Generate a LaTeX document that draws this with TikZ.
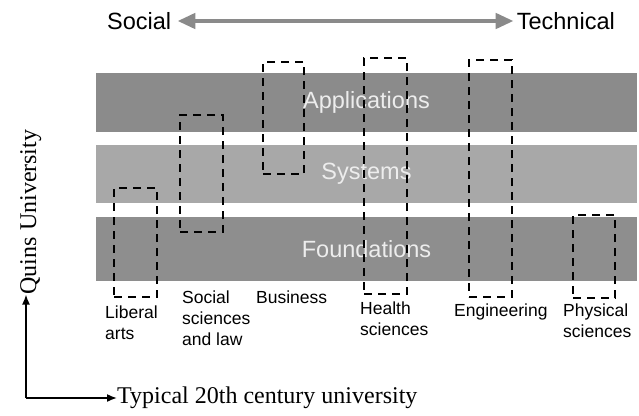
\documentclass[tikz,border=0pt]{standalone}
\usepackage{fontspec}
\setmainfont{Liberation Sans}
\newfontfamily\timesfont{Liberation Serif}
\usetikzlibrary{arrows.meta}
\definecolor{barA}{HTML}{8B8B8B}
\definecolor{barS}{HTML}{A8A8A8}
\definecolor{barF}{HTML}{8E8E8E}
\definecolor{bartext}{HTML}{EDEDED}
\definecolor{axisgray}{HTML}{8A8A8A}
\tikzset{
  bar/.style={rectangle, inner sep=0pt, minimum width=541pt, text=bartext,
    font=\fontsize{23.5}{28}\selectfont},
  dbox/.style={rectangle, draw=black, line width=2pt, dash pattern=on 8pt off 6pt,
    inner sep=0pt},
  field/.style={inner sep=0pt, align=left, anchor=base west,
    font=\fontsize{17.5}{21}\selectfont},
  toplabel/.style={inner sep=0pt, font=\fontsize{23.5}{28}\selectfont},
  serifl/.style={inner sep=0pt, font=\timesfont\fontsize{24}{29}\selectfont},
  grayarrow/.style={draw=axisgray, line width=4.5pt,
    arrows={Triangle[length=18pt,width=15pt,fill=axisgray]-Triangle[length=18pt,width=15pt,fill=axisgray]}},
  blackarrow/.style={draw=black, line width=1.6pt, -{Latex[length=10pt,width=8pt]}}
}
\begin{document}
\begin{tikzpicture}[x=1pt,y=-1pt]
\useasboundingbox[fill=white] (0,0) rectangle (639,415);
% top axis
\node[toplabel, anchor=west] (social) at (107,21) {Social};
\node[toplabel, anchor=east] (technical) at (615,21) {Technical};
\draw[grayarrow, shorten <=6pt, shorten >=3pt] (social.east) -- (technical.west);
% bars
\node[bar, fill=barA, minimum height=59pt] (app) at (366.5,102.5) {Applications};
\node[bar, fill=barS, minimum height=58pt] (sys) at (366.5,174) {Systems};
\node[bar, fill=barF, minimum height=64pt] (fnd) at (366.5,249) {Foundations};
% dashed boxes
\node[dbox, minimum width=43pt, minimum height=109pt] (libbox) at (135.5,242.5) {};
\node[dbox, minimum width=43pt, minimum height=117pt] (socbox) at (201.5,173.5) {};
\node[dbox, minimum width=41pt, minimum height=112pt] (busbox) at (283.5,118) {};
\node[dbox, minimum width=43pt, minimum height=236pt] (heabox) at (385.5,176) {};
\node[dbox, minimum width=43pt, minimum height=237pt] (engbox) at (490.5,178.5) {};
\node[dbox, minimum width=42pt, minimum height=83pt] (phybox) at (594,256.5) {};
% field labels (anchored at the baseline of the last line)
\node[field] (lib) at (105,339) {Liberal\\arts};
\node[field] (soc) at (182,345) {Social\\sciences\\and law};
\node[field] (bus) at (256,303) {Business};
\node[field] (hea) at (360,335) {Health\\sciences};
\node[field] (eng) at (454,316) {Engineering};
\node[field] (phy) at (563,337) {Physical\\sciences};
% axes
\coordinate (corner) at (26,398);
\node[serifl, rotate=90, anchor=base] (quins) at (36,212) {Quins University};
\node[serifl, anchor=west] (typical) at (117,398) {Typical 20th century university};
\draw[blackarrow] (corner) -- (corner |- quins.west);
\draw[blackarrow] (corner) -- (typical.west);
\end{tikzpicture}
\end{document}
